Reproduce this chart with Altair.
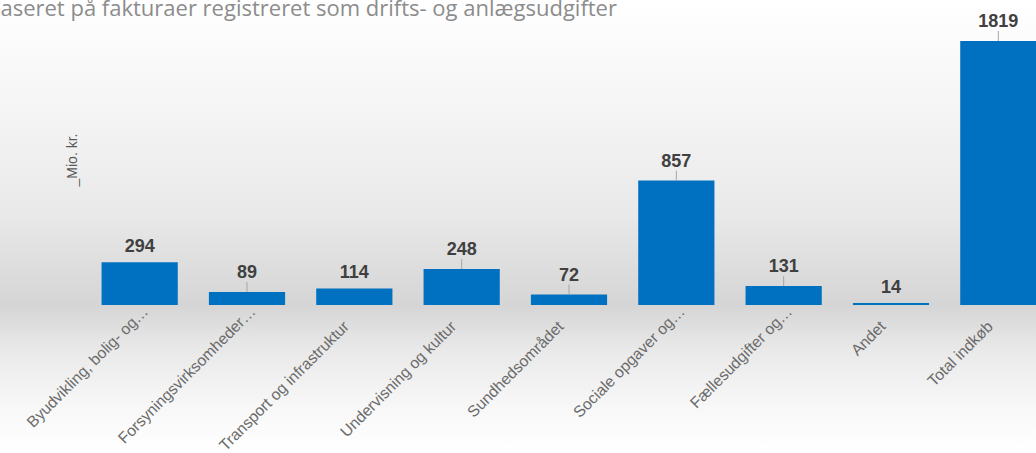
import altair as alt
import pandas as pd

categories = [
    "Byudvikling, bolig- og…",
    "Forsyningsvirksomheder…",
    "Transport og infrastruktur",
    "Undervisning og kultur",
    "Sundhedsområdet",
    "Sociale opgaver og…",
    "Fællesudgifter og…",
    "Andet",
    "Total indkøb",
]
values = [294, 89, 114, 248, 72, 857, 131, 14, 1819]
with_leader = [False, True, False, True, True, True, True, False, True]

title_text = "baseret på fakturaer registreret som drifts- og anlægsudgifter"
y_title = "_Mio. kr."

df = pd.DataFrame({"cat": categories, "v": values, "lead": with_leader})

LEFT, TOP, W, H, BOTTOM = 86, 41, 950, 264, 148
YMAX = 1819

x_scale = alt.Scale(range=[0, 966], paddingInner=0.29, paddingOuter=0.145)
x_enc = alt.X("cat:N", sort=categories, title=None, scale=x_scale, axis=None)
x_plain = alt.X("cat:N", sort=categories)
y_enc = alt.Y("v:Q", scale=alt.Scale(domain=[0, YMAX], nice=False, zero=True), axis=None)

one = alt.Data(values=[{"k": 1}])

bg_top = alt.Chart(one).mark_rect(
    fill=alt.LinearGradient(
        gradient="linear",
        stops=[
            alt.GradientStop(color="#ffffff", offset=0),
            alt.GradientStop(color="#f5f5f5", offset=0.35),
            alt.GradientStop(color="#e9e9e9", offset=0.7),
            alt.GradientStop(color="#d5d5d5", offset=1),
        ],
        x1=0, x2=0, y1=0, y2=1,
    )
).encode(
    x=alt.value(-LEFT), x2=alt.value(W), y=alt.value(-TOP), y2=alt.value(H)
)

bg_bot = alt.Chart(one).mark_rect(
    fill=alt.LinearGradient(
        gradient="linear",
        stops=[
            alt.GradientStop(color="#d5d5d5", offset=0),
            alt.GradientStop(color="#e9e9e9", offset=0.3),
            alt.GradientStop(color="#f8f8f8", offset=0.7),
            alt.GradientStop(color="#ffffff", offset=1),
        ],
        x1=0, x2=0, y1=0, y2=1,
    )
).encode(
    x=alt.value(-LEFT), x2=alt.value(W), y=alt.value(H), y2=alt.value(H + BOTTOM)
)

title = alt.Chart(one).mark_text(
    text=title_text, font="Open Sans", fontSize=22, color="#8c8c8c",
    align="left", baseline="alphabetic",
).encode(x=alt.value(-LEFT - 13), y=alt.value(-TOP + 16))

ytitle = alt.Chart(one).mark_text(
    text=y_title, font="Liberation Sans", fontSize=14, color="#595959",
    angle=270, align="center", baseline="middle",
).encode(x=alt.value(73 - LEFT), y=alt.value(160 - TOP))

base = alt.Chart(df)

bars = base.mark_bar(color="#0070C0").encode(x=x_enc, y=y_enc)

leaders = base.transform_filter("datum.lead").mark_rule(
    color="#a6a6a6", strokeWidth=1, y2Offset=-10
).encode(x=x_plain, y=alt.Y("v:Q"), y2="v:Q")

lab_lead = base.transform_filter("datum.lead").mark_text(
    font="Liberation Sans", fontWeight="bold", fontSize=18, color="#404040",
    baseline="alphabetic", dy=-14,
).encode(x=x_plain, y=alt.Y("v:Q"), text="v:Q")

lab_plain = base.transform_filter("!datum.lead").mark_text(
    font="Liberation Sans", fontWeight="bold", fontSize=18, color="#404040",
    baseline="alphabetic", dy=-10,
).encode(x=x_plain, y=alt.Y("v:Q"), text="v:Q")

cat_style = dict(
    font="Liberation Sans", fontSize=15.7, color="#6b6b6b",
    angle=315, align="right", baseline="middle",
)
cat_trunc = base.transform_filter("indexof(datum.cat, '…') >= 0").mark_text(
    xOffset=6, **cat_style
).encode(x=x_plain, y=alt.value(H + 4), text="cat:N")

cat_full = base.transform_filter("indexof(datum.cat, '…') < 0").mark_text(
    xOffset=-8, **cat_style
).encode(x=x_plain, y=alt.value(H + 19), text="cat:N")

chart = alt.layer(
    bg_top, bg_bot, title, ytitle, bars, leaders, lab_lead, lab_plain, cat_trunc, cat_full
).properties(
    width=W,
    height=H,
    autosize=alt.AutoSizeParams(type="none"),
    padding={"left": LEFT, "top": TOP, "right": 0, "bottom": BOTTOM},
    background="#ffffff",
).configure_view(stroke=None)

chart.save("out.html", embed_options={"renderer": "svg", "actions": False})
